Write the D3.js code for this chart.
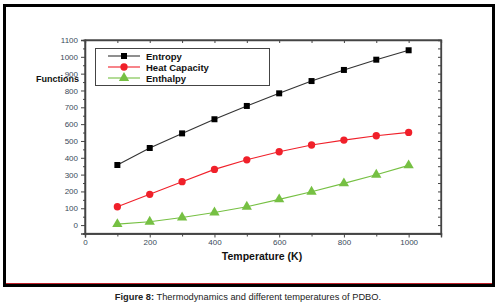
<!DOCTYPE html>
<html><head><meta charset="utf-8">
<script src="https://cdn.jsdelivr.net/npm/d3@7"></script>
<style>body{margin:0;background:#fff}svg{display:block}</style>
</head><body>
<svg id="c" width="500" height="304"></svg>
<script>
const temperatures = [100,200,300,400,500,600,700,800,900,1000];
const entropy = [357,458,545,629,708,783,856,922,983,1039];
const heatCapacity = [109,183,258,331,388,436,476,505,531,551];
const enthalpy = [6,20,45,75,109,153,198,248,299,355];
const seriesNames = ["Entropy","Heat Capacity","Enthalpy"];
const xTicks = [0,200,400,600,800,1000];
const yTicks = [0,100,200,300,400,500,600,700,800,900,1000,1100];

const colors = ["#000000","#f0202a","#76c043"];
const lineColors = ["#333333","#f0202a","#76c043"];
const data = [entropy, heatCapacity, enthalpy];

const svg = d3.select("#c");
const font = "'Liberation Sans', Arial, sans-serif";

// outer frame
svg.append("rect").attr("x",4.5).attr("y",5.5).attr("width",489).attr("height",280)
  .attr("fill","none").attr("stroke","#000").attr("stroke-width",3);
svg.append("line").attr("x1",6).attr("x2",492).attr("y1",283.5).attr("y2",283.5)
  .attr("stroke","#c0202a").attr("stroke-width",1);

const x = d3.scaleLinear().domain([0,1100]).range([85,441]);
const y = d3.scaleLinear().domain([-50,1100]).range([233.5,40]);

const g = svg.append("g");
g.append("rect").attr("x",x(0)).attr("y",y(1100)).attr("width",x(1100)-x(0)).attr("height",y(-50)-y(1100))
  .attr("fill","none").attr("stroke","#444").attr("stroke-width",1.3);

const fmt = d3.format("d");
g.append("g").attr("transform",`translate(${x(0)},0)`)
  .call(d3.axisLeft(y).tickValues(yTicks).tickSize(4).tickPadding(3).tickFormat(fmt));
g.append("g").attr("transform",`translate(${x(0)},0)`)
  .call(d3.axisLeft(y).tickValues(d3.range(-50,1100,100)).tickSize(2).tickFormat(""));
g.append("g").attr("transform",`translate(0,${y(-50)})`)
  .call(d3.axisBottom(x).tickValues(xTicks).tickSize(4).tickPadding(2).tickFormat(fmt));
g.append("g").attr("transform",`translate(0,${y(-50)})`)
  .call(d3.axisBottom(x).tickValues(d3.range(100,1100,200)).tickSize(3).tickFormat(""));
g.append("g").attr("transform",`translate(0,${y(1100)})`)
  .call(d3.axisBottom(x).tickValues(d3.range(100,1100,100)).tickSize(3).tickFormat(""));
g.append("g").attr("transform",`translate(${x(1100)},0)`)
  .call(d3.axisLeft(y).tickValues(d3.range(-50,1100,50)).tickSize(3).tickFormat(""));

g.selectAll(".domain").attr("stroke","#444").attr("stroke-width",1.3);
g.selectAll(".tick line").attr("stroke","#444");
g.selectAll(".tick text").attr("font-family",font).attr("font-size",8).attr("fill","#3a4a5a");

const line = d3.line().x((d,i)=>x(temperatures[i])).y(d=>y(d));
data.forEach((vals,k)=>{
  g.append("path").datum(vals).attr("d",line).attr("fill","none")
    .attr("stroke",lineColors[k]).attr("stroke-width",1.1);
});
const sym = [d3.symbolSquare, d3.symbolCircle, d3.symbolTriangle];
const sizes = [36, 42, 46];
data.forEach((vals,k)=>{
  g.selectAll(null).data(vals).join("path")
    .attr("transform",(d,i)=>`translate(${x(temperatures[i])},${y(d)})`)
    .attr("d",d3.symbol().type(sym[k]).size(sizes[k]))
    .attr("fill",colors[k]);
});

const lg = svg.append("g");
lg.append("rect").attr("x",95.5).attr("y",48.5).attr("width",174).attr("height",37)
  .attr("fill","#fff").attr("stroke","#444").attr("stroke-width",1);
const rowsY = [56,67,78];
seriesNames.forEach((nm,k)=>{
  lg.append("line").attr("x1",108).attr("x2",140).attr("y1",rowsY[k]).attr("y2",rowsY[k])
    .attr("stroke",lineColors[k]).attr("stroke-width",1.1);
  lg.append("path").attr("transform",`translate(124,${rowsY[k]})`)
    .attr("d",d3.symbol().type(sym[k]).size(sizes[k])).attr("fill",colors[k]);
  lg.append("text").attr("x",146).attr("y",rowsY[k]+3.5).text(nm)
    .attr("font-family",font).attr("font-size",9.5).attr("font-weight","bold").attr("fill","#111");
});

svg.append("text").attr("x",36).attr("y",81.5).text("Functions")
  .attr("font-family",font).attr("font-size",9).attr("font-weight","bold").attr("fill","#111");
svg.append("text").attr("x",262).attr("y",260).attr("text-anchor","middle").text("Temperature (K)")
  .attr("font-family",font).attr("font-size",10.5).attr("font-weight","bold").attr("fill","#111");

const cap = svg.append("text").attr("x",248).attr("y",300).attr("text-anchor","middle")
  .attr("font-family",font).attr("font-size",9.3).attr("fill","#222");
cap.append("tspan").attr("font-weight","bold").text("Figure 8:");
cap.append("tspan").text(" Thermodynamics and different temperatures of PDBO.");
</script>
</body></html>
